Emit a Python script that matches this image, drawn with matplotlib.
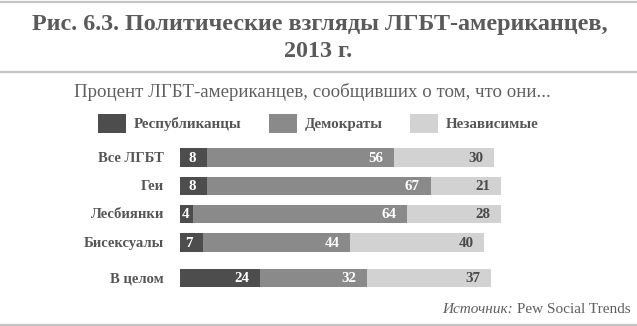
import matplotlib
matplotlib.use("Agg")
import matplotlib.pyplot as plt
from matplotlib.patches import Rectangle
from matplotlib.lines import Line2D

# --- data -------------------------------------------------------------
groups = ["Все ЛГБТ", "Геи", "Лесбиянки", "Бисексуалы", "В целом"]
republicans = [8, 8, 4, 7, 24]
democrats = [56, 67, 64, 44, 32]
independents = [30, 21, 28, 40, 37]
series_names = ["Республиканцы", "Демократы", "Независимые"]

title_lines = ["Рис. 6.3. Политические взгляды ЛГБТ-американцев,", "2013 г."]
subtitle = "Процент ЛГБТ-американцев, сообщивших о том, что они..."

# --- style ------------------------------------------------------------
W, H = 637, 326
DPI = 100
colors = ["#4d4d4d", "#8a8a8a", "#d2d2d2"]
label_colors = ["white", "white", "#4a4a4a"]
text_grey = "#555555"
rule_grey = "#c4c4c4"
SERIF = ["Liberation Serif", "DejaVu Serif"]

fig = plt.figure(figsize=(W / DPI, H / DPI), dpi=DPI)
fig.patch.set_facecolor("white")


def fx(px):
    return px / W


def fy(py):
    # pixel measured from the top edge -> figure fraction
    return 1 - py / H


# horizontal rules
for py in (1.5, 72.5, 324.5):
    fig.add_artist(Line2D([0, 1], [fy(py), fy(py)], transform=fig.transFigure,
                          color=rule_grey, lw=1.6))

# title
fig.text(fx(319.5), fy(30), title_lines[0], ha="center", va="baseline",
         fontsize=17.4, fontweight="bold", family=SERIF, color="#5a5a5a")
fig.text(fx(318), fy(57), title_lines[1], ha="center", va="baseline",
         fontsize=17.4, fontweight="bold", family=SERIF, color="#5a5a5a")

# subtitle
fig.text(fx(74), fy(97), subtitle, ha="left", va="baseline",
         fontsize=13.6, family=SERIF, color="#5f5f5f")

# legend
legend_boxes = [98, 269, 410]
for x0, name, c in zip(legend_boxes, series_names, colors):
    fig.add_artist(Rectangle((fx(x0), fy(133)), fx(27.5), 19.5 / H,
                             transform=fig.transFigure, facecolor=c,
                             edgecolor="none"))
    fig.text(fx(x0 + 36), fy(127.5), name, ha="left", va="baseline",
             fontsize=10.8, fontweight="bold", family=SERIF, color=text_grey)

# bar axes
positions = [0, 1, 2, 3, 4.25]
px_per_unit = 3.34
row_px = 28.5
ax_left_px = 180
ax_top_px = 157.5 - row_px / 2
ax_bottom_px = 278 + row_px / 2
ax = fig.add_axes([fx(ax_left_px), fy(ax_bottom_px),
                   fx(100 * px_per_unit), (ax_bottom_px - ax_top_px) / H])
ax.set_xlim(0, 100)
ax.set_ylim(4.25 + 0.5, -0.5)
ax.axis("off")

bar_h = 18.5 / row_px
series = [republicans, democrats, independents]
left = [0] * len(groups)
value_texts = []
for vals, c, lc in zip(series, colors, label_colors):
    ax.barh(positions, vals, left=left, height=bar_h, color=c, edgecolor="none")
    for y, l, v in zip(positions, left, vals):
        t = ax.annotate(str(v), xy=(l + v, y), xytext=(-7.6, -0.5),
                        textcoords="offset points", ha="right", va="center",
                        fontsize=10.8, fontweight="bold", family=SERIF, color=lc)
        value_texts.append((t, l, y))
    left = [a + b for a, b in zip(left, vals)]

# category labels
for y, g in zip(positions, groups):
    ax.annotate(g, xy=(0, y), xytext=(-11.5, -0.5), textcoords="offset points",
                ha="right", va="center", fontsize=10.5, fontweight="bold",
                family=SERIF, color=text_grey, annotation_clip=False)

# keep narrow-segment labels inside their segment
fig.canvas.draw()
renderer = fig.canvas.get_renderer()
for t, l, y in value_texts:
    bb = t.get_window_extent(renderer)
    start_px = ax.transData.transform((l, y))[0]
    if bb.x0 < start_px + 2:
        t.xy = (l, y)
        t.set_ha("left")
        t.set_position((1.4, -0.5))

# source line
src_y = fy(313)
s1 = fig.text(fx(631), src_y, " Pew Social Trends", ha="right", va="baseline",
              fontsize=11, family=SERIF, color="#5f5f5f")
fig.canvas.draw()
bb = s1.get_window_extent(renderer)
fig.text(bb.x0 / W, src_y, "Источник:", ha="right", va="baseline",
         fontsize=11, style="italic", family=SERIF, color="#5f5f5f")

fig.savefig("out.png", dpi=DPI, facecolor="white")
